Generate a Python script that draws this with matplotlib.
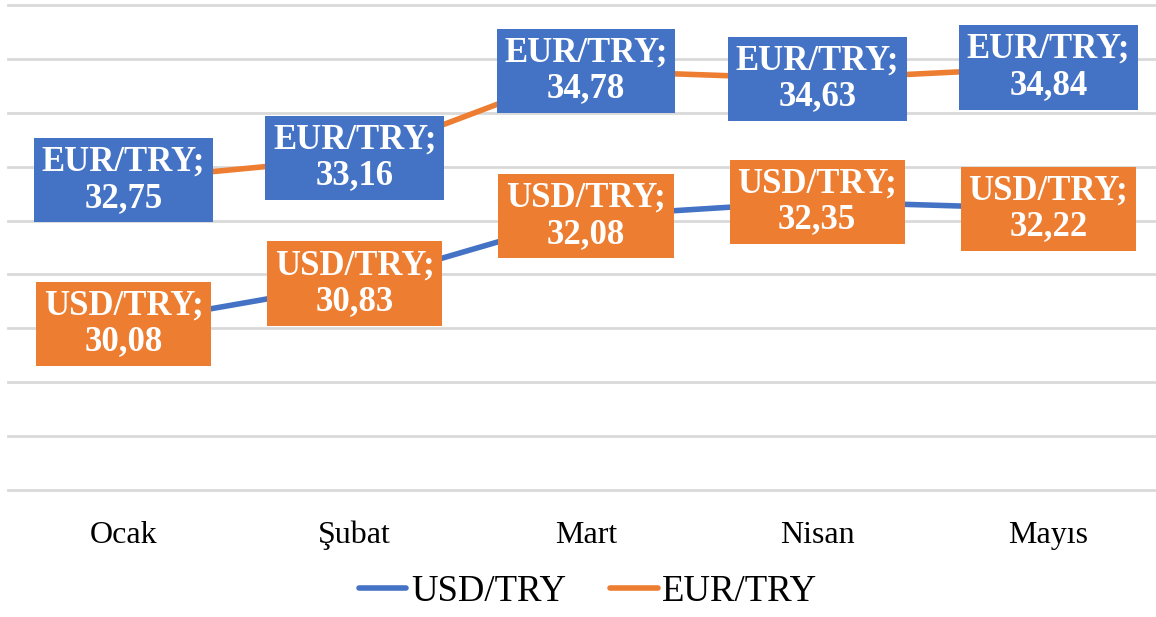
import matplotlib
matplotlib.use('Agg')
import matplotlib.pyplot as plt

months = ['Ocak', 'Şubat', 'Mart', 'Nisan', 'Mayıs']
usd_try = [30.08, 30.83, 32.08, 32.35, 32.22]
eur_try = [32.75, 33.16, 34.78, 34.63, 34.84]

blue = '#4472C4'
orange = '#ED7D31'

plt.rcParams['font.family'] = ['Liberation Serif', 'DejaVu Serif']

fig = plt.figure(figsize=(11.56, 6.17), dpi=100)
ax = fig.add_axes([8/1156, 1-490/617, 1156/1156, (490-5)/617])

x = list(range(len(months)))
ax.plot(x, usd_try, color=blue, lw=4, label='USD/TRY', solid_capstyle='round', zorder=2)
ax.plot(x, eur_try, color=orange, lw=4, label='EUR/TRY', solid_capstyle='round', zorder=2)

def fmt(v):
    return ('%.2f' % v).replace('.', ',')

# data labels: box colour is the other series' colour, as in the source
for i, v in enumerate(usd_try):
    ax.text(i, v, 'USD/TRY;\n' + fmt(v), ha='center', va='center', color='white',
            fontsize=25, fontweight='bold', linespacing=1.12, zorder=4,
            bbox=dict(boxstyle='square,pad=0.22', fc=orange, ec='none'))
for i, v in enumerate(eur_try):
    ax.text(i, v, 'EUR/TRY;\n' + fmt(v), ha='center', va='center', color='white',
            fontsize=25, fontweight='bold', linespacing=1.12, zorder=4,
            bbox=dict(boxstyle='square,pad=0.22', fc=blue, ec='none'))

ax.set_xlim(-0.5, 4.5)
ax.set_ylim(27, 36)
ax.set_yticks(range(27, 37))
ax.set_yticklabels([])
ax.set_xticks(x)
ax.set_xticklabels(months, fontsize=23)
ax.tick_params(length=0, pad=22)
ax.grid(axis='y', color='#d9d9d9', lw=2)
for gl in ax.get_ygridlines():
    gl.set_clip_on(False)
ax.set_axisbelow(True)
for s in ax.spines.values():
    s.set_visible(False)

fig.legend(loc='center', bbox_to_anchor=(588/1156, 1-592/617), ncol=2, frameon=False,
           fontsize=26.5, handlelength=1.3, handletextpad=0.12, columnspacing=1.2)

fig.savefig('out.png', dpi=100)
